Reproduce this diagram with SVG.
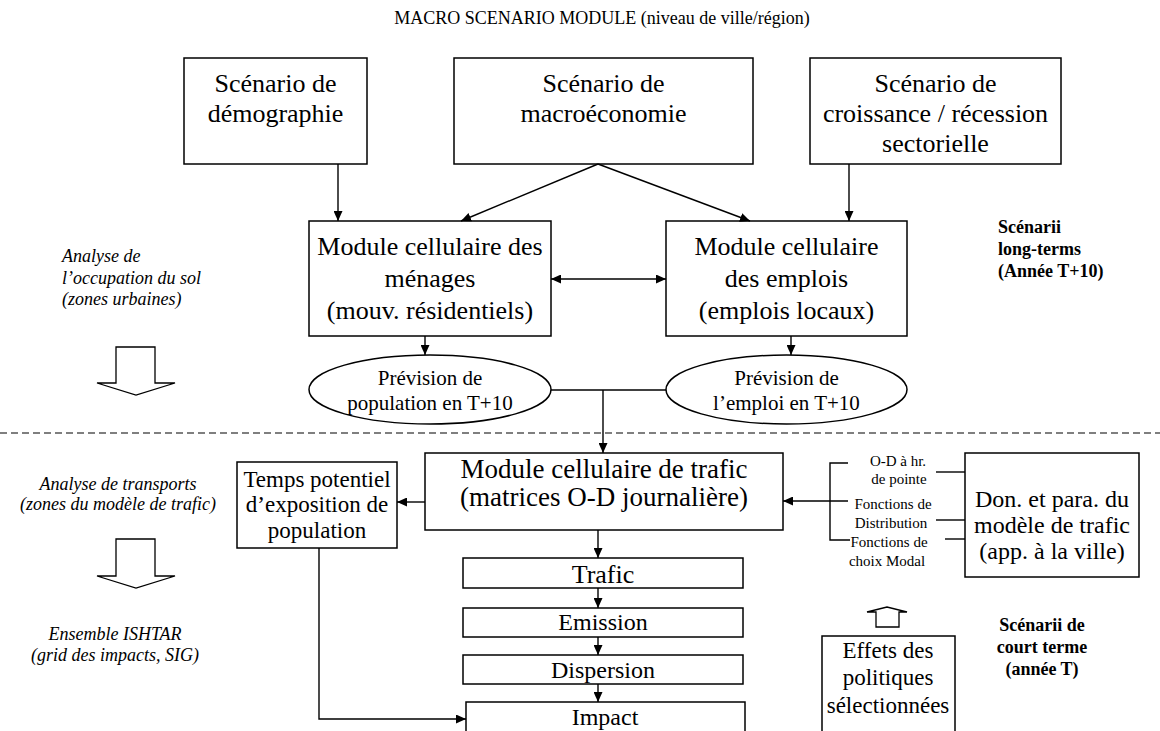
<svg xmlns="http://www.w3.org/2000/svg" width="1160" height="731" viewBox="0 0 1160 731">
  <defs>
    <marker id="arrow" viewBox="0 0 10 9" refX="10" refY="4.5" markerWidth="10" markerHeight="9" markerUnits="userSpaceOnUse" orient="auto-start-reverse">
      <path d="M0,0 L10,4.5 L0,9 z" fill="#000"/>
    </marker>
    <style>
      .box { fill: #fff; stroke: #000; stroke-width: 1.5; }
      .line { fill: none; stroke: #000; stroke-width: 1.4; }
      .arr { fill: none; stroke: #000; stroke-width: 1.4; marker-end: url(#arrow); }
      .hollow { fill: #fff; stroke: #000; stroke-width: 1.3; stroke-linejoin: miter; }
      text { font-family: "Liberation Serif", "Times New Roman", serif; fill: #000; text-anchor: middle; }
      .start { text-anchor: start; }
      .big { font-size: 26px; }
      .big27 { font-size: 27px; }
      .mid { font-size: 24px; }
      .med { font-size: 23px; }
      .oval { font-size: 21px; }
      .small { font-size: 15px; }
      .side { font-size: 18px; font-style: italic; }
      .note { font-size: 18px; font-weight: bold; }
      .title { font-size: 18px; }
    </style>
  </defs>

  <text class="title" x="602" y="24">MACRO SCENARIO MODULE (niveau de ville/région)</text>

  <!-- side annotations -->
  <g id="side-labels">
    <text class="side start" x="62" y="262">Analyse de</text>
    <text class="side start" x="62" y="284">l’occupation du sol</text>
    <text class="side start" x="62" y="305">(zones urbaines)</text>
    <text class="side" x="118" y="490">Analyse de transports</text>
    <text class="side" x="118" y="510">(zones du modèle de trafic)</text>
    <text class="side" x="115" y="640">Ensemble ISHTAR</text>
    <text class="side" x="115" y="661">(grid des impacts, SIG)</text>
    <text class="note start" x="998" y="233">Scénarii</text>
    <text class="note start" x="998" y="255">long-terms</text>
    <text class="note start" x="998" y="277">(Année T+10)</text>
    <text class="note" x="1042" y="631">Scénarii de</text>
    <text class="note" x="1042" y="653">court terme</text>
    <text class="note" x="1042" y="675">(année T)</text>
  </g>

  <!-- block arrows -->
  <g id="block-arrows">
    <path class="hollow" d="M116,347 L155,347 L155,383 L175,383 L136,395 L97,383 L116,383 Z"/>
    <path class="hollow" d="M116,539 L155,539 L155,576 L175,576 L136,588 L97,576 L116,576 Z"/>
    <path class="hollow" d="M876,627 L876,612 L867,612 L887,607 L907,612 L899,612 L899,627 Z"/>
  </g>

  <!-- separator between long-term and short-term levels -->
  <line x1="0" y1="433" x2="1160" y2="433" stroke="#000" stroke-width="1.2" stroke-dasharray="7,4"/>

  <g id="scen-demo">
    <rect class="box" x="184" y="58" width="183" height="106"/>
    <text class="big" x="275.5" y="92">Scénario de</text>
    <text class="big" x="275.5" y="122">démographie</text>
  </g>
  <g id="scen-macro">
    <rect class="box" x="454" y="58" width="299" height="106"/>
    <text class="big" x="603.5" y="92">Scénario de</text>
    <text class="big" x="603.5" y="122">macroéconomie</text>
  </g>
  <g id="scen-sect">
    <rect class="box" x="810" y="58" width="251" height="106"/>
    <text class="big" x="935.5" y="92">Scénario de</text>
    <text class="big" x="935.5" y="122">croissance / récession</text>
    <text class="big" x="935.5" y="152">sectorielle</text>
  </g>
  <g id="mod-menages">
    <rect class="box" x="309" y="221" width="242" height="115"/>
    <text class="big" x="430" y="255">Module cellulaire des</text>
    <text class="big" x="430" y="287">ménages</text>
    <text class="big" x="430" y="319">(mouv. résidentiels)</text>
  </g>
  <g id="mod-emplois">
    <rect class="box" x="666" y="221" width="241" height="115"/>
    <text class="big" x="786.5" y="255">Module cellulaire</text>
    <text class="big" x="786.5" y="287">des emplois</text>
    <text class="big" x="786.5" y="319">(emplois locaux)</text>
  </g>
  <g id="prev-pop">
    <ellipse class="box" cx="430" cy="389.5" rx="121" ry="34.5"/>
    <text class="oval" x="430" y="385">Prévision de</text>
    <text class="oval" x="430" y="410">population en T+10</text>
  </g>
  <g id="prev-emploi">
    <ellipse class="box" cx="786.5" cy="389.5" rx="120.5" ry="34.5"/>
    <text class="oval" x="786.5" y="385">Prévision de</text>
    <text class="oval" x="786.5" y="410">l’emploi en T+10</text>
  </g>
  <g id="mod-trafic">
    <rect class="box" x="425" y="453" width="358" height="77"/>
    <text class="big27" x="604" y="478">Module cellulaire de trafic</text>
    <text class="big27" x="604" y="506">(matrices O-D journalière)</text>
  </g>
  <g id="temps-expo">
    <rect class="box" x="237" y="462" width="160" height="86"/>
    <text class="med" x="317" y="487">Temps potentiel</text>
    <text class="med" x="317" y="512">d’exposition de</text>
    <text class="med" x="317" y="538">population</text>
  </g>
  <g id="don-para">
    <rect class="box" x="965" y="453" width="174" height="124"/>
    <text class="mid" x="1052" y="507">Don. et para. du</text>
    <text class="mid" x="1052" y="533">modèle de trafic</text>
    <text class="mid" x="1052" y="559">(app. à la ville)</text>
  </g>
  <g id="param-labels">
    <text class="small" x="898" y="466">O-D à hr.</text>
    <text class="small" x="899" y="484">de pointe</text>
    <text class="small" x="893" y="509">Fonctions de</text>
    <text class="small" x="891" y="528">Distribution</text>
    <text class="small" x="889" y="547">Fonctions de</text>
    <text class="small" x="887" y="566">choix Modal</text>
  </g>
  <g id="trafic">
    <rect class="box" x="463" y="558" width="280" height="30"/>
    <text class="big" x="603" y="583">Trafic</text>
  </g>
  <g id="emission">
    <rect class="box" x="463" y="608" width="280" height="29"/>
    <text class="mid" x="603" y="630">Emission</text>
  </g>
  <g id="dispersion">
    <rect class="box" x="463" y="655" width="280" height="29"/>
    <text class="mid" x="603" y="678">Dispersion</text>
  </g>
  <g id="impact">
    <rect class="box" x="466" y="702" width="279" height="32"/>
    <text class="mid" x="605" y="725">Impact</text>
  </g>
  <g id="effets">
    <rect class="box" x="822" y="636" width="133" height="104"/>
    <text class="med" x="888" y="658">Effets des</text>
    <text class="med" x="888" y="685">politiques</text>
    <text class="med" x="888" y="713">sélectionnées</text>
  </g>

  <g id="connectors">
    <line class="arr" x1="338" y1="164" x2="338" y2="221"/>
    <line class="arr" x1="598" y1="164" x2="461" y2="221"/>
    <line class="arr" x1="598" y1="164" x2="750" y2="221"/>
    <line class="arr" x1="849" y1="164" x2="849" y2="221"/>
    <line class="arr" x1="551" y1="279" x2="666" y2="279" style="marker-start:url(#arrow)"/>
    <line class="arr" x1="425" y1="336" x2="425" y2="355"/>
    <line class="arr" x1="791" y1="336" x2="791" y2="355"/>
    <line class="line" x1="551" y1="390" x2="666" y2="390"/>
    <line class="arr" x1="603" y1="390" x2="603" y2="453"/>
    <line class="arr" x1="425" y1="502" x2="397" y2="502"/>
    <line class="arr" x1="598" y1="530" x2="598" y2="558"/>
    <line class="arr" x1="598" y1="588" x2="598" y2="608"/>
    <line class="arr" x1="598" y1="637" x2="598" y2="655"/>
    <line class="arr" x1="598" y1="684" x2="598" y2="702"/>
    <polyline class="arr" points="319,548 319,719 466,719"/>
    <polyline class="line" points="848,463 830,463 830,540 850,540"/>
    <line class="arr" x1="848" y1="501" x2="783" y2="501"/>
    <line class="line" x1="936" y1="472" x2="965" y2="472"/>
    <line class="line" x1="936" y1="520" x2="965" y2="520"/>
    <line class="line" x1="945" y1="539" x2="965" y2="539"/>
  </g>
</svg>
